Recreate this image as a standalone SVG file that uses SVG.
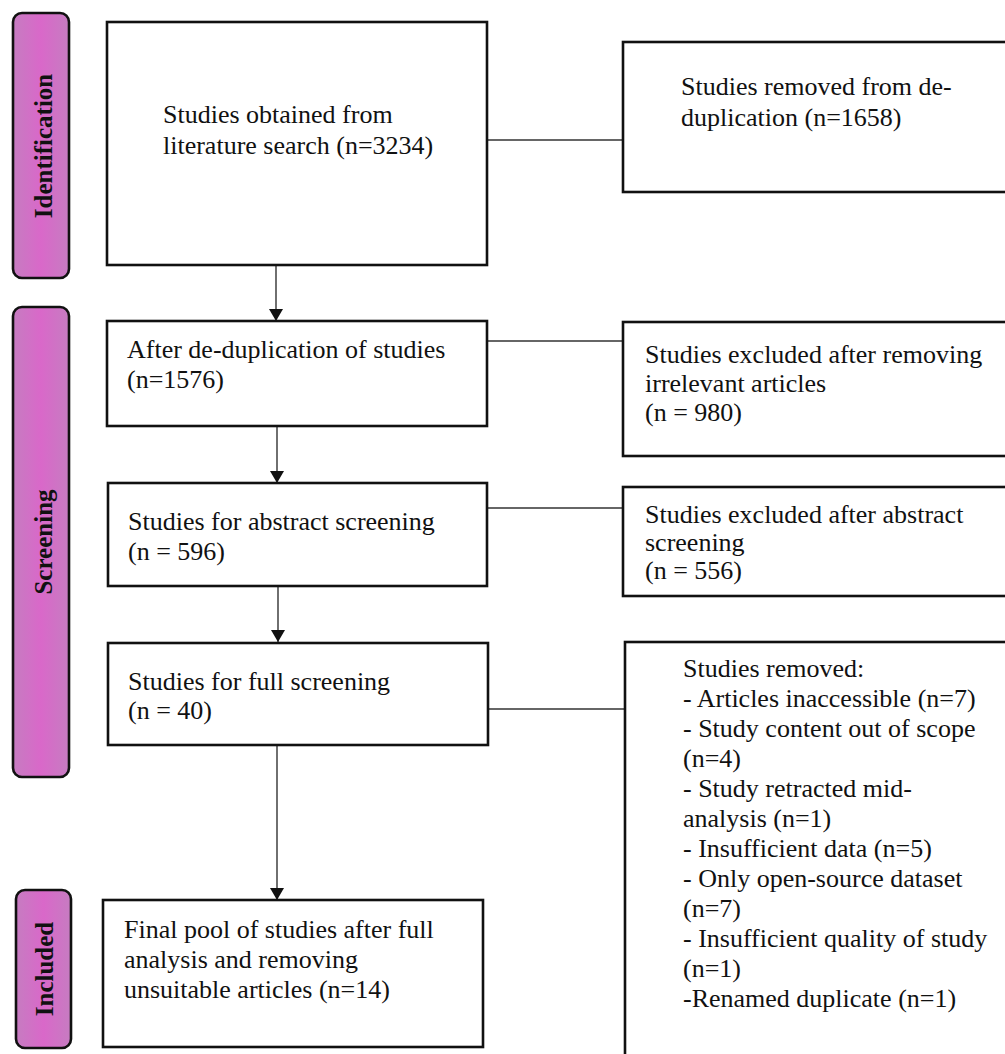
<svg xmlns="http://www.w3.org/2000/svg" width="1005" height="1054" viewBox="0 0 1005 1054">
<style>
  .box { fill: #ffffff; stroke: #111111; stroke-width: 2.6; }
  .phase { fill: url(#phaseFill); stroke: #111111; stroke-width: 2.6; }
  .t { font-family: "Liberation Serif", "Times New Roman", serif; font-size: 26px; fill: #111111; }
  .pt { font-family: "Liberation Serif", "Times New Roman", serif; font-size: 25px; font-weight: bold; fill: #111111; text-anchor: middle; }
  .conn { stroke: #333333; stroke-width: 1.3; fill: none; }
  .arrow { stroke: #222222; stroke-width: 1.3; fill: none; marker-end: url(#ah); }
</style>
<defs>
  <linearGradient id="phaseFill" x1="0" y1="0" x2="1" y2="0">
    <stop offset="0" stop-color="#c67cc1"/>
    <stop offset="0.5" stop-color="#d968c9"/>
    <stop offset="1" stop-color="#c67cc1"/>
  </linearGradient>
  <marker id="ah" viewBox="0 0 12 14" markerWidth="12" markerHeight="14" refX="12" refY="7" orient="auto" markerUnits="userSpaceOnUse">
    <path d="M0,0 L12,7 L0,14 z" fill="#111111"/>
  </marker>
</defs>
<rect width="1005" height="1054" fill="#ffffff"/>

<g id="phase-identification">
  <rect class="phase" x="13" y="13" width="56" height="265" rx="9"/>
  <text class="pt" transform="translate(52,146) rotate(-90)">Identification</text>
</g>
<g id="phase-screening">
  <rect class="phase" x="13" y="307" width="56" height="470" rx="9"/>
  <text class="pt" transform="translate(52,542) rotate(-90)">Screening</text>
</g>
<g id="phase-included">
  <rect class="phase" x="16" y="890" width="55" height="158" rx="9"/>
  <text class="pt" transform="translate(53,969) rotate(-90)">Included</text>
</g>

<g id="connectors">
  <line class="arrow" x1="276" y1="265" x2="276" y2="321"/>
  <line class="arrow" x1="277" y1="426" x2="277" y2="483"/>
  <line class="arrow" x1="278" y1="586" x2="278" y2="642"/>
  <line class="arrow" x1="277" y1="745" x2="277" y2="900"/>
  <line class="conn" x1="487" y1="140" x2="623" y2="140"/>
  <line class="conn" x1="487" y1="341" x2="623" y2="341"/>
  <line class="conn" x1="487" y1="508" x2="623" y2="508"/>
  <line class="conn" x1="488" y1="709" x2="625" y2="709"/>
</g>

<g id="node-search">
  <rect class="box" x="107" y="22" width="380" height="243"/>
  <text class="t" x="163" y="123">Studies obtained from</text>
  <text class="t" x="163" y="154">literature search (n=3234)</text>
</g>
<g id="node-dedup">
  <rect class="box" x="107" y="321" width="380" height="105"/>
  <text class="t" x="127" y="358">After de-duplication of studies</text>
  <text class="t" x="127" y="388">(n=1576)</text>
</g>
<g id="node-abstract">
  <rect class="box" x="108" y="483" width="379" height="103"/>
  <text class="t" x="128" y="530">Studies for abstract screening</text>
  <text class="t" x="128" y="560">(n = 596)</text>
</g>
<g id="node-full">
  <rect class="box" x="108" y="643" width="380" height="102"/>
  <text class="t" x="128" y="690">Studies for full screening</text>
  <text class="t" x="128" y="719">(n = 40)</text>
</g>
<g id="node-final">
  <rect class="box" x="103" y="900" width="380" height="147"/>
  <text class="t" x="124" y="938">Final pool of studies after full</text>
  <text class="t" x="124" y="968">analysis and removing</text>
  <text class="t" x="124" y="998">unsuitable articles (n=14)</text>
</g>

<g id="node-removed-dedup">
  <rect class="box" x="623" y="42" width="400" height="150"/>
  <text class="t" x="681" y="95">Studies removed from de-</text>
  <text class="t" x="681" y="126">duplication (n=1658)</text>
</g>
<g id="node-excluded-irrelevant">
  <rect class="box" x="623" y="322" width="400" height="134"/>
  <text class="t" x="645" y="363">Studies excluded after removing</text>
  <text class="t" x="645" y="392">irrelevant articles</text>
  <text class="t" x="645" y="421">(n = 980)</text>
</g>
<g id="node-excluded-abstract">
  <rect class="box" x="623" y="487" width="400" height="109"/>
  <text class="t" x="645" y="523">Studies excluded after abstract</text>
  <text class="t" x="645" y="551">screening</text>
  <text class="t" x="645" y="579">(n = 556)</text>
</g>
<g id="node-removed-full">
  <rect class="box" x="625" y="642" width="400" height="430"/>
  <text class="t" x="683" y="677">Studies removed:</text>
  <text class="t" x="683" y="707">- Articles inaccessible (n=7)</text>
  <text class="t" x="683" y="737">- Study content out of scope</text>
  <text class="t" x="683" y="767">(n=4)</text>
  <text class="t" x="683" y="797">- Study retracted mid-</text>
  <text class="t" x="683" y="827">analysis (n=1)</text>
  <text class="t" x="683" y="857">- Insufficient data (n=5)</text>
  <text class="t" x="683" y="887">- Only open-source dataset</text>
  <text class="t" x="683" y="917">(n=7)</text>
  <text class="t" x="683" y="947">- Insufficient quality of study</text>
  <text class="t" x="683" y="977">(n=1)</text>
  <text class="t" x="683" y="1007">-Renamed duplicate (n=1)</text>
</g>
</svg>
